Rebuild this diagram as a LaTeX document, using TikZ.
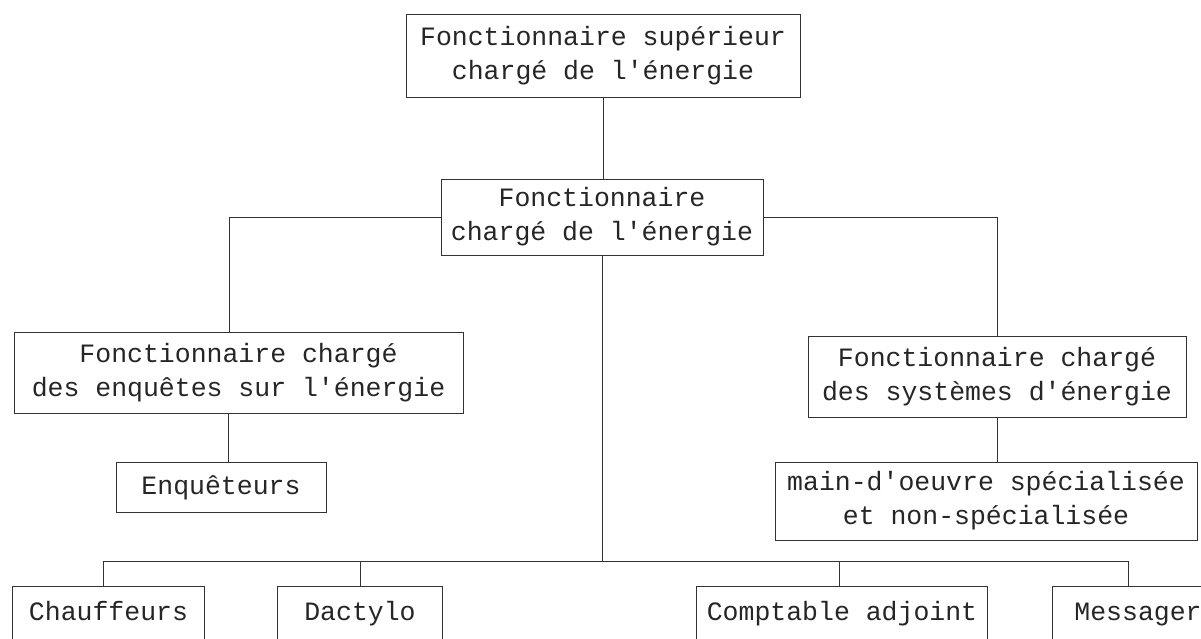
\documentclass[tikz,border=0pt]{standalone}
\usepackage{fontspec}
\setmonofont{Liberation Mono}
\begin{document}
\begin{tikzpicture}[x=1pt,y=-1pt,
  txt/.style={inner sep=0pt, align=center, text=black!85,
    font=\ttfamily\fontsize{26.5}{34}\selectfont},
  box/.style={txt, draw=black!80, line width=1pt},
  low/.style={txt, text height=22pt, text depth=6pt, minimum height=50pt},
  link/.style={draw=black!80, line width=1pt}]
\fill[white] (0,0) rectangle (1201,638);
\useasboundingbox (0,0) rectangle (1201,638);
\clip (0,0) rectangle (1201,638);

\node[box, minimum width=394pt, minimum height=83pt] (A) at (603,55.5)
  {Fonctionnaire supérieur\\chargé de l'énergie};
\node[box, minimum width=322pt, minimum height=76pt] (B) at (602,217)
  {Fonctionnaire\\chargé de l'énergie};
\node[box, minimum width=449pt, minimum height=81pt] (C) at (238.5,372.5)
  {Fonctionnaire chargé\\des enquêtes sur l'énergie};
\node[box, minimum width=378pt, minimum height=81pt] (D) at (997,376.5)
  {Fonctionnaire chargé\\des systèmes d'énergie};
\node[box, minimum width=210pt, minimum height=50pt, text height=20pt, text depth=6pt] (E) at (221,487)
  {Enquêteurs};
\node[box, minimum width=422pt, minimum height=78pt] (F) at (986,501)
  {main-d'oeuvre spécialisée\\et non-spécialisée};

\node[low, minimum width=191pt] (ch) at (108.5,612) {Chauffeurs};
\node[low, minimum width=164pt] (da) at (360,612) {Dactylo};
\node[low, minimum width=290pt] (ca) at (842,612) {Comptable adjoint};
\node[low, minimum width=170pt] (ms) at (1138,612) {Messager};
\foreach \n in {ch,da,ca,ms}
  \draw[link] ([yshift=-20pt]\n.south west) -- (\n.north west) -- (\n.north east) -- ([yshift=-20pt]\n.south east);

\coordinate (bus) at (601,561);

\draw[link] (A.south) -- (A.south |- B.north);
\draw[link] (B.west) -| ([xshift=-9.5pt]C.north);
\draw[link] (B.east) -| (D.north);
\draw[link] ([xshift=7pt]E.north) -- ([xshift=7pt]E.north |- C.south);
\draw[link] (D.south) -- (D.south |- F.north);
\draw[link] (B.south) -- (B.south |- bus);
\draw[link] ([xshift=-5.5pt]ch.north) |- (bus) -| ([xshift=-10pt]ms.north);
\draw[link] (da.north) -- (da.north |- bus);
\draw[link] ([xshift=-3pt]ca.north) -- ([xshift=-3pt]ca.north |- bus);
\end{tikzpicture}
\end{document}
